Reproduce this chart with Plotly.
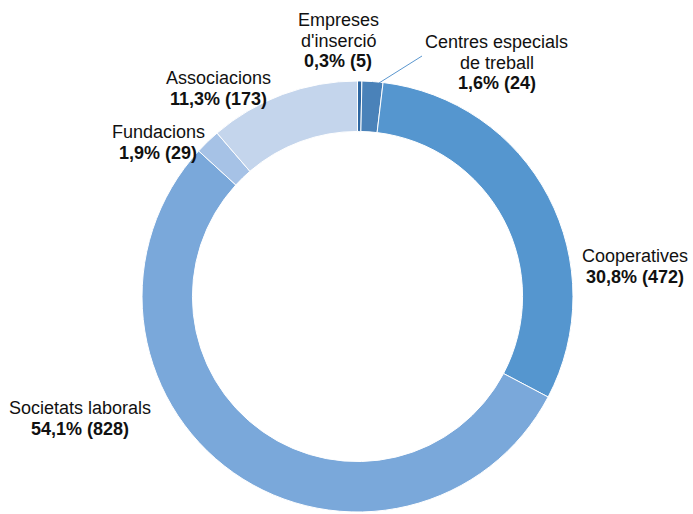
import plotly.graph_objects as go

categories = ["Empreses<br>d'inserció", "Centres especials<br>de treball", "Cooperatives",
              "Societats laborals", "Fundacions", "Associacions"]
values = [5, 24, 472, 828, 29, 173]
colors = ["#2f68a3", "#4a82b9", "#5596cf", "#7aa8da", "#a6c2e6", "#c4d5ec"]

# label anchor: centre x and centre y of first line, in pixels from top-left
label_pos = [(338, 20), (497, 42), (635, 256), (80, 408), (158, 132), (218, 78)]
LINE = 20.7
W, H = 693, 514

total = sum(values)
fig = go.Figure(go.Pie(
    labels=categories, values=values, sort=False, direction="clockwise",
    rotation=0, hole=0.766, textinfo="none", hoverinfo="label+value",
    marker=dict(colors=colors, line=dict(color="white", width=1)),
    domain=dict(x=[142 / W, 573 / W], y=[(514 - 512) / H, (514 - 81) / H]),
    showlegend=False,
))

font = dict(family="Liberation Sans, Arial, sans-serif", size=18, color="#111111")
for cat, v, (px, py) in zip(categories, values, label_pos):
    pct = f"{100 * v / total:.1f}".replace(".", ",")
    lines = cat.split("<br>") + [f"<b>{pct}% ({v})</b>"]
    for i, ln in enumerate(lines):
        fig.add_annotation(
            x=px / W, y=1 - (py + i * LINE) / H, xref="paper", yref="paper",
            xanchor="center", yanchor="middle", showarrow=False,
            text=ln, font=font,
        )

# leader line for Centres especials
fig.add_shape(type="line", xref="paper", yref="paper",
              x0=379 / W, y0=1 - 83 / H, x1=422 / W, y1=1 - 56 / H,
              line=dict(color="#5b97cf", width=1))

fig.update_layout(width=W, height=H, margin=dict(l=0, r=0, t=0, b=0),
                  paper_bgcolor="white", plot_bgcolor="white")
fig.write_html("out.html", config={"displayModeBar": False},
               post_script="document.body.style.margin='0';")
